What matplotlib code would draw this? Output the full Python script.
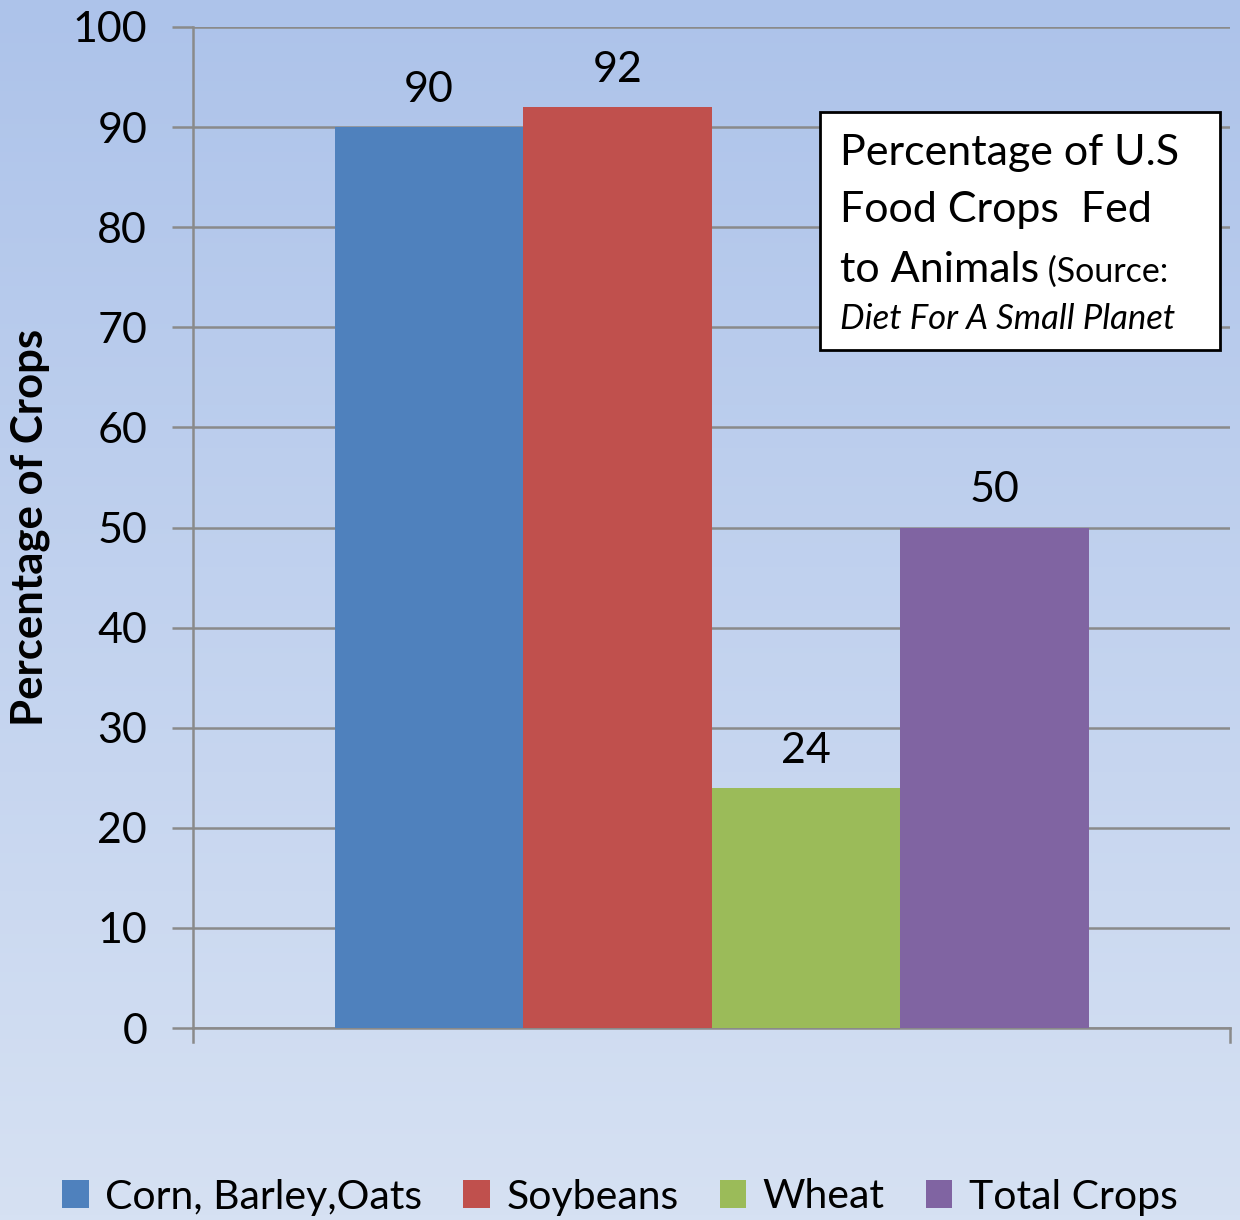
import numpy as np
import matplotlib
matplotlib.use("Agg")
import matplotlib.pyplot as plt
from matplotlib.patches import Rectangle

series = ["Corn, Barley,Oats", "Soybeans", "Wheat", "Total Crops"]
values = [90, 92, 24, 50]
colors = ["#4f81bd", "#c0504d", "#9bbb59", "#8064a2"]
yticks = [0, 10, 20, 30, 40, 50, 60, 70, 80, 90, 100]
ylabel = "Percentage of Crops"
box_line1 = "Percentage of U.S"
box_line2 = "Food Crops  Fed"
box_line3a = "to Animals"
box_line3b = " (Source:"
box_line4 = "Diet For A Small Planet"

FONT = "Lato"
plt.rcParams["font.family"] = [FONT, "DejaVu Sans"]

W, H = 1240, 1220
fig = plt.figure(figsize=(W / 100, H / 100), dpi=100)

# vertical gradient background
bg = fig.add_axes([0, 0, 1, 1], zorder=-10)
grad = np.linspace(0, 1, 256).reshape(-1, 1)
top = np.array([0xad, 0xc3, 0xea]) / 255
bot = np.array([0xd6, 0xe1, 0xf3]) / 255
img = top[None, None, :] * (1 - grad[:, :, None]) + bot[None, None, :] * grad[:, :, None]
bg.imshow(img, aspect="auto", extent=[0, 1, 0, 1], origin="upper")
bg.set_axis_off()

left, right, ytop, ybot = 193, 1230, 27, 1028
ax = fig.add_axes([left / W, 1 - ybot / H, (right - left) / W, (ybot - ytop) / H])
ax.patch.set_alpha(0)

n = len(values)
group_w = 754 / (right - left)
bw = group_w / n
x0 = 0.5 - group_w / 2
xs = [x0 + bw * (i + 0.5) for i in range(n)]
bars = ax.bar(xs, values, width=bw, color=colors, zorder=3)
for b, lab in zip(bars, series):
    b.set_label(lab)

ax.set_xlim(0, 1)
ax.set_ylim(0, 100)
ax.set_yticks(yticks)
ax.set_xticks([])
ax.grid(axis="y", color="#8a8a8a", linewidth=1.8, zorder=0)
ax.tick_params(axis="y", length=15, width=1.8, color="#8a8a8a", labelsize=31, pad=18)
for s in ["top", "right"]:
    ax.spines[s].set_visible(False)
for s in ["left", "bottom"]:
    ax.spines[s].set_color("#8a8a8a")
    ax.spines[s].set_linewidth(1.8)
# category boundary ticks on the x axis
for xb in (0, 1):
    ax.plot([xb, xb], [0, -1.4], color="#8a8a8a", lw=1.8, clip_on=False, zorder=3)

ax.bar_label(bars, labels=[str(v) for v in values], padding=13, fontsize=31)

# y-axis title
fig.text(30 / W, 1 - 527 / H, ylabel, fontsize=31.5, fontweight="bold", rotation=90,
         ha="center", va="center")

# legend
leg = fig.legend(handles=bars, labels=series, loc="center", bbox_to_anchor=(0.5, 1 - 1197 / H),
                 ncol=4, frameon=False, fontsize=29.5, handlelength=0.65, handleheight=0.65,
                 handletextpad=0.4, columnspacing=1.0)

# annotation box
bx0, by0, bx1, by1 = 820, 112, 1220, 350
fig.patches.append(Rectangle((bx0 / W, 1 - by1 / H), (bx1 - bx0) / W, (by1 - by0) / H,
                             transform=fig.transFigure, facecolor="white", edgecolor="black",
                             linewidth=2, zorder=5))
tx = 840 / W
fig.text(tx, 1 - 153 / H, box_line1, fontsize=31, va="center", zorder=6)
fig.text(tx, 1 - 210 / H, box_line2, fontsize=31, va="center", zorder=6)
t3 = fig.text(tx, 1 - 282 / H, box_line3a, fontsize=31, va="baseline", zorder=6)
fig.canvas.draw()
ext = t3.get_window_extent()
fig.text(ext.x1 / W, t3.get_position()[1], box_line3b, fontsize=24.5, va="baseline", zorder=6)
fig.text(tx, 1 - 319 / H, box_line4, fontsize=25, style="italic", va="center", zorder=6)

fig.savefig("out.png", dpi=100)
